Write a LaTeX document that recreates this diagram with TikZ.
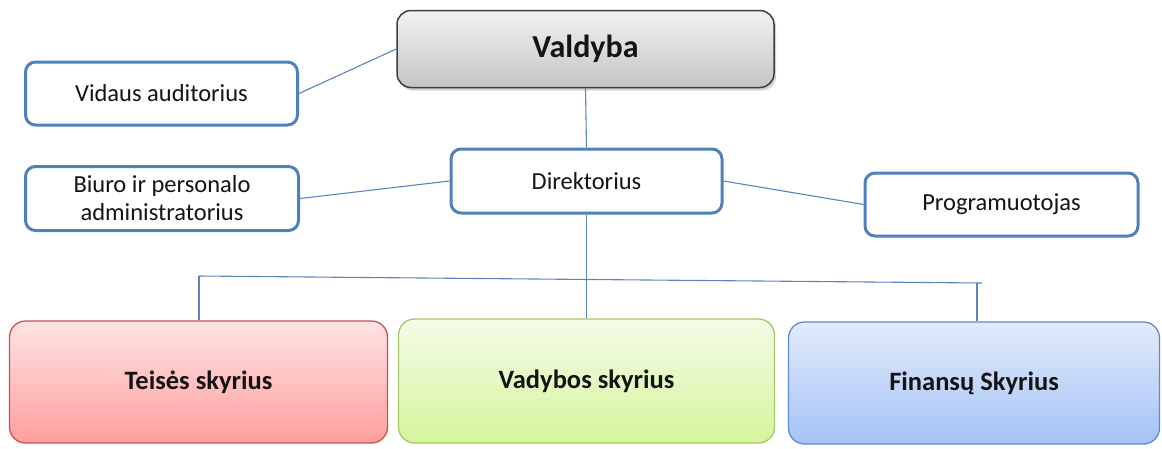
\documentclass[tikz,border=0pt]{standalone}
\usepackage{fontspec}
\setmainfont{Carlito}
\usetikzlibrary{shadows}
\definecolor{bord}{HTML}{4F81BD}
\definecolor{linec}{HTML}{5A86C0}
\definecolor{txt}{HTML}{141414}
\definecolor{redtop}{HTML}{FFE3E3}
\definecolor{redbot}{HTML}{FF9E9E}
\definecolor{redbrd}{HTML}{C9514E}
\definecolor{grntop}{HTML}{F4FCE8}
\definecolor{grnbot}{HTML}{D5F59B}
\definecolor{grnbrd}{HTML}{A6C96A}
\definecolor{blutop}{HTML}{E2EBFC}
\definecolor{blubot}{HTML}{A5C3F5}
\definecolor{blubrd}{HTML}{5E8BC9}
\definecolor{grytop}{HTML}{F2F2F2}
\definecolor{grybot}{HTML}{C4C4C4}
\definecolor{grybrd}{HTML}{3F3F3F}
\begin{document}
\begin{tikzpicture}[x=1pt,y=-1pt,
  plainbox/.style={draw=bord, line width=3pt, rounded corners=10pt, fill=white,
    font=\fontsize{24.5}{28}\selectfont, text=txt, align=center, inner sep=0pt},
  link/.style={draw=linec, line width=1.1pt},
  deptbox/.style={rounded corners=16pt, line width=1.3pt,
    font=\fontsize{26.5}{30}\selectfont\bfseries, text=txt, inner sep=0pt,
    minimum height=122pt},
]
\useasboundingbox (0,0) rectangle (1162,448);

% top board
\node[draw=grybrd, line width=1.5pt, rounded corners=14pt,
      top color=grytop, bottom color=grybot,
      drop shadow={opacity=0.35, shadow xshift=2pt, shadow yshift=-3pt},
      minimum width=377pt, minimum height=77pt, inner sep=0pt,
      font=\fontsize{32}{36}\selectfont\bfseries, text=txt]
      (val) at (585.5,49) {Valdyba};

% staff boxes
\node[plainbox, minimum width=272pt, minimum height=63pt] (vid) at (161.5,93.5) {Vidaus auditorius};
\node[plainbox, minimum width=273pt, minimum height=64pt] (biu) at (162,198.5) {Biuro ir personalo\\administratorius};
\node[plainbox, minimum width=271pt, minimum height=64pt] (dir) at (586.5,181) {Direktorius};
\node[plainbox, minimum width=273pt, minimum height=63pt] (prog) at (1001.5,204.5) {Programuotojas};

% departments
\node[deptbox, draw=redbrd, top color=redtop, bottom color=redbot, minimum width=378pt] (tei) at (198.5,382) {Teisės skyrius};
\node[deptbox, draw=grnbrd, top color=grntop, bottom color=grnbot, minimum width=376pt, minimum height=124pt] (vad) at (586.5,381) {Vadybos skyrius};
\node[deptbox, draw=blubrd, top color=blutop, bottom color=blubot, minimum width=371pt] (fin) at (974,383) {Finansų Skyrius};

% connectors
\draw[link] (vid.east) -- (val.west);
\draw[link] (biu.east) -- (dir.west);
\draw[link] (dir.east) -- (prog.west);
\draw[link] (val.south) -- (dir.north);

\coordinate (busL) at (199,276);
\coordinate (busM) at (586.5,279.5);
\coordinate (busR) at (982,283);
\coordinate (busRd) at (977,283);
\draw[link] (dir.south) -- (busM);
\draw[link] (busL) -- (busR);
\draw[link] (busL) -- (busL |- tei.north);
\draw[link] (busM) -- (vad.north);
\draw[link] (busRd) -- (busRd |- fin.north);
\end{tikzpicture}
\end{document}
